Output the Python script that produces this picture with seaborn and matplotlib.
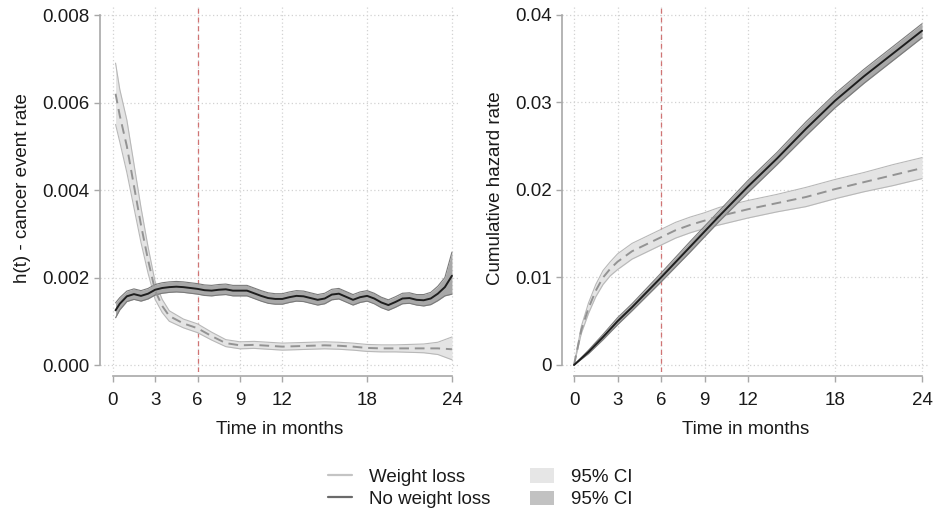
import numpy as np
import matplotlib
matplotlib.use("Agg")
import matplotlib.pyplot as plt
from matplotlib.lines import Line2D
from matplotlib.patches import Patch
import seaborn as sns

sns.set_theme(style="white")
plt.rcParams['font.family'] = ['Liberation Sans', 'DejaVu Sans']

# --- hazard h(t), weight loss ---
haz_wl_t = [0.2, 0.5, 1, 1.5, 2, 2.5, 3, 3.5, 4, 5, 6, 7, 8, 9, 10, 11, 12, 13, 14, 15, 16,
            17, 18, 19, 20, 21, 22, 23, 24]
haz_wl = [0.0062, 0.0057, 0.0050, 0.0041, 0.0032, 0.0024, 0.0017, 0.00135, 0.00112, 0.00095,
          0.00084, 0.00066, 0.00050, 0.00045, 0.00046, 0.00044, 0.00042, 0.00043, 0.00044,
          0.00045, 0.00044, 0.00042, 0.00039, 0.00038, 0.00038, 0.00038, 0.00038, 0.00038, 0.00036]
haz_wl_lo = [0.0055, 0.0051, 0.0044, 0.0036, 0.0028, 0.0021, 0.0015, 0.00120, 0.00100, 0.00085,
             0.00074, 0.00057, 0.00042, 0.00037, 0.00038, 0.00036, 0.00034, 0.00035, 0.00036,
             0.00037, 0.00036, 0.00034, 0.00031, 0.00030, 0.00030, 0.00029, 0.00028, 0.00024, 0.00012]
haz_wl_hi = [0.0069, 0.0063, 0.0056, 0.0046, 0.0036, 0.0027, 0.0019, 0.00150, 0.00124, 0.00105,
             0.00094, 0.00075, 0.00058, 0.00053, 0.00054, 0.00052, 0.00050, 0.00051, 0.00052,
             0.00053, 0.00052, 0.00050, 0.00047, 0.00046, 0.00046, 0.00047, 0.00048, 0.00052, 0.00064]

# --- hazard h(t), no weight loss ---
haz_nwl_t = [0.2, 0.5, 1, 1.5, 2, 2.5, 3, 3.5, 4, 4.5, 5, 5.5, 6, 6.5, 7, 7.5, 8, 8.5, 9, 9.5,
             10, 10.5, 11, 11.5, 12, 12.5, 13, 13.5, 14, 14.5, 15, 15.5, 16, 16.5, 17, 17.5,
             18, 18.5, 19, 19.5, 20, 20.5, 21, 21.5, 22, 22.5, 23, 23.5, 24]
haz_nwl = [0.00125, 0.00140, 0.00157, 0.00162, 0.00158, 0.00163, 0.00172, 0.00176, 0.00178,
           0.00179, 0.00178, 0.00176, 0.00174, 0.00171, 0.00170, 0.00172, 0.00173, 0.00170,
           0.00170, 0.00170, 0.00164, 0.00158, 0.00153, 0.00151, 0.00151, 0.00155, 0.00158,
           0.00157, 0.00153, 0.00149, 0.00152, 0.00161, 0.00163, 0.00156, 0.00149, 0.00155,
           0.00158, 0.00152, 0.00143, 0.00137, 0.00144, 0.00152, 0.00153, 0.00149, 0.00148,
           0.00152, 0.00163, 0.00178, 0.00204]
haz_nwl_lo = [0.00108, 0.00126, 0.00145, 0.00150, 0.00146, 0.00151, 0.00160, 0.00164, 0.00166,
              0.00167, 0.00166, 0.00164, 0.00162, 0.00159, 0.00158, 0.00160, 0.00161, 0.00158,
              0.00158, 0.00158, 0.00152, 0.00146, 0.00141, 0.00139, 0.00139, 0.00143, 0.00146,
              0.00145, 0.00141, 0.00137, 0.00140, 0.00149, 0.00151, 0.00144, 0.00137, 0.00143,
              0.00146, 0.00140, 0.00131, 0.00125, 0.00132, 0.00140, 0.00141, 0.00137, 0.00135,
              0.00138, 0.00147, 0.00158, 0.00162]
haz_nwl_hi = [0.00142, 0.00154, 0.00169, 0.00174, 0.00170, 0.00175, 0.00184, 0.00188, 0.00190,
              0.00191, 0.00190, 0.00188, 0.00186, 0.00183, 0.00182, 0.00184, 0.00185, 0.00182,
              0.00182, 0.00182, 0.00176, 0.00170, 0.00165, 0.00163, 0.00163, 0.00167, 0.00170,
              0.00169, 0.00165, 0.00161, 0.00164, 0.00173, 0.00175, 0.00168, 0.00161, 0.00167,
              0.00170, 0.00164, 0.00155, 0.00149, 0.00156, 0.00164, 0.00165, 0.00161, 0.00161,
              0.00166, 0.00180, 0.00200, 0.00258]

# --- cumulative hazard, weight loss ---
cum_wl_t = [0, 0.5, 1, 1.5, 2, 2.5, 3, 4, 5, 6, 7, 8, 9, 10, 11, 12, 14, 16, 18, 20, 22, 24]
cum_wl = [0, 0.0040, 0.0065, 0.0085, 0.0100, 0.0110, 0.0118, 0.0130, 0.0138, 0.0146, 0.0154,
          0.0160, 0.0165, 0.0170, 0.0174, 0.0178, 0.0185, 0.0192, 0.0201, 0.0209, 0.0217, 0.0225]
cum_wl_lo = [0, 0.0036, 0.0059, 0.0078, 0.0092, 0.0102, 0.0109, 0.0121, 0.0129, 0.0137, 0.0145,
             0.0151, 0.0156, 0.0160, 0.0164, 0.0168, 0.0175, 0.0181, 0.0190, 0.0198, 0.0205, 0.0213]
cum_wl_hi = [0, 0.0044, 0.0071, 0.0092, 0.0108, 0.0118, 0.0127, 0.0139, 0.0147, 0.0155, 0.0163,
             0.0169, 0.0174, 0.0180, 0.0184, 0.0188, 0.0195, 0.0203, 0.0212, 0.0220, 0.0229, 0.0237]

# --- cumulative hazard, no weight loss ---
cum_nwl_t = [0, 1, 2, 3, 4, 6, 8, 10, 12, 14, 16, 18, 20, 22, 24]
cum_nwl = [0, 0.0015, 0.0032, 0.0050, 0.0066, 0.0100, 0.0135, 0.0170, 0.0204, 0.0236, 0.0270,
           0.0302, 0.0330, 0.0356, 0.0382]
cum_nwl_lo = [0, 0.0013, 0.0029, 0.0046, 0.0062, 0.0095, 0.0129, 0.0164, 0.0197, 0.0229, 0.0262,
              0.0294, 0.0322, 0.0348, 0.0374]
cum_nwl_hi = [0, 0.0017, 0.0035, 0.0054, 0.0070, 0.0105, 0.0141, 0.0176, 0.0211, 0.0243, 0.0278,
              0.0310, 0.0338, 0.0364, 0.0390]

x_ticks = [0, 3, 6, 9, 12, 18, 24]
haz_ticks = [0, 0.002, 0.004, 0.006, 0.008]
haz_labels = ["0.000", "0.002", "0.004", "0.006", "0.008"]
cum_ticks = [0, 0.01, 0.02, 0.03, 0.04]
cum_labels = ["0", "0.01", "0.02", "0.03", "0.04"]

WL_LINE, WL_BAND, WL_EDGE = "#939393", "#e4e4e4", "#b8b8b8"
NWL_LINE, NWL_BAND, NWL_EDGE = "#1e1e1e", "#a8a8a8", "#7a7a7a"
SPINE = "#a8a8a8"
FS = 13.5

fig = plt.figure(figsize=(9.33, 5.15), dpi=100)
ax1 = fig.add_axes([100 / 933, 1 - 372 / 515, 360 / 933, 367 / 515])
ax2 = fig.add_axes([562 / 933, 1 - 372 / 515, 368 / 933, 367 / 515])


def band(ax, t, lo, hi, fill, edge):
    ax.fill_between(t, lo, hi, color=fill, lw=0, zorder=2)
    ax.plot(t, lo, color=edge, lw=0.8, zorder=2)
    ax.plot(t, hi, color=edge, lw=0.8, zorder=2)


def style(ax, yticks, ylabels, xlim, ylim, ylabel):
    ax.set_xlim(*xlim)
    ax.set_ylim(*ylim)
    ax.set_xticks(x_ticks)
    ax.set_yticks(yticks)
    ax.set_yticklabels(ylabels)
    ax.grid(True, linestyle=(0, (1, 2)), color="#d2d2d2", linewidth=0.9, zorder=0)
    ax.set_axisbelow(True)
    for s in ["top", "right"]:
        ax.spines[s].set_visible(False)
    ax.spines["left"].set_bounds(yticks[0], yticks[-1])
    ax.spines["bottom"].set_bounds(0, 24)
    ax.spines["bottom"].set_position(("outward", 3))
    for s in ["left", "bottom"]:
        ax.spines[s].set_color(SPINE)
        ax.spines[s].set_linewidth(1.2)
    ax.tick_params(axis="both", which="both", direction="out", width=1.0,
                   color=SPINE, labelsize=FS, labelcolor="#1a1a1a",
                   left=True, bottom=True)
    ax.tick_params(axis="x", length=4.5, pad=7)
    ax.tick_params(axis="y", length=4.5, pad=3)
    ax.axvline(6, color="#d07474", linestyle=(0, (4, 3)), lw=0.9, zorder=1.5,
               snap=True)
    ax.set_xlabel("Time in months", fontsize=FS, color="#1a1a1a", labelpad=8.5)
    ax.set_ylabel(ylabel, fontsize=FS, color="#1a1a1a", labelpad=8)


# left panel: hazard
band(ax1, haz_wl_t, haz_wl_lo, haz_wl_hi, WL_BAND, WL_EDGE)
band(ax1, haz_nwl_t, haz_nwl_lo, haz_nwl_hi, NWL_BAND, NWL_EDGE)
sns.lineplot(x=haz_wl_t, y=haz_wl, ax=ax1, color=WL_LINE, lw=1.4, zorder=3,
             linestyle=(0, (5, 3)))
sns.lineplot(x=haz_nwl_t, y=haz_nwl, ax=ax1, color=NWL_LINE, lw=1.4, zorder=3)
style(ax1, haz_ticks, haz_labels, (-0.9, 24.57), (-0.00016, 0.008229),
      "h(t) - cancer event rate")

# right panel: cumulative hazard
band(ax2, cum_wl_t, cum_wl_lo, cum_wl_hi, WL_BAND, WL_EDGE)
band(ax2, cum_nwl_t, cum_nwl_lo, cum_nwl_hi, NWL_BAND, NWL_EDGE)
sns.lineplot(x=cum_wl_t, y=cum_wl, ax=ax2, color=WL_LINE, lw=1.4, zorder=3,
             linestyle=(0, (5, 3)))
sns.lineplot(x=cum_nwl_t, y=cum_nwl, ax=ax2, color=NWL_LINE, lw=1.4, zorder=3)
style(ax2, cum_ticks, cum_labels, (-0.83, 24.55), (-0.0008, 0.04114),
      "Cumulative hazard rate")

handles = [
    Line2D([], [], color="#c4c4c4", lw=1.6),
    Line2D([], [], color="#6a6a6a", lw=1.6),
    Patch(facecolor="#e6e6e6", edgecolor="none"),
    Patch(facecolor="#c2c2c2", edgecolor="none"),
]
labels = ["Weight loss", "No weight loss", "95% CI", "95% CI"]
fig.legend(handles, labels, ncol=2, loc="center", bbox_to_anchor=(0.515, 0.052),
           frameon=False, fontsize=FS, handlelength=1.3, handleheight=0.8,
           handletextpad=0.9, columnspacing=2.1, labelspacing=0.25, labelcolor="#1a1a1a")

fig.savefig("out.png", dpi=100)
